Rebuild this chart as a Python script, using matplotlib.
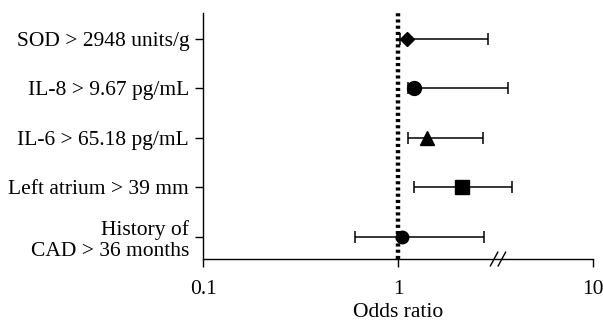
import numpy as np
import matplotlib
matplotlib.use("Agg")
import matplotlib.pyplot as plt
import matplotlib.transforms as mtransforms

plt.rcParams['font.family'] = ['Liberation Serif', 'DejaVu Serif']

labels = ["SOD > 2948 units/g", "IL-8 > 9.67 pg/mL", "IL-6 > 65.18 pg/mL",
          "Left atrium > 39 mm", "History of\nCAD > 36 months"]
odds = [1.11, 1.21, 1.40, 2.12, 1.05]
ci_low = [1.02, 1.12, 1.12, 1.21, 0.60]
ci_high = [2.88, 3.68, 2.72, 3.83, 2.77]
markers = ["D", "o", "^", "s", "o"]
msizes = [7, 10, 10, 10, 9]

fig = plt.figure(figsize=(6.03, 3.21), dpi=100)
ax = fig.add_axes([0.3367, 0.1931, 0.6467, 0.7664])

ypos = np.arange(len(labels))[::-1] + 1

# reference line at OR = 1
ax.plot([1, 1], [0.55, 5.52], color='black', lw=3.2, linestyle=(0, (0.7, 0.7)), zorder=1)

for y, o, lo, hi, m, ms in zip(ypos, odds, ci_low, ci_high, markers, msizes):
    ax.errorbar(o, y, xerr=[[o - lo], [hi - o]], fmt='none', ecolor='black',
                elinewidth=1.1, capsize=4.5, capthick=1.1, zorder=2)
    ax.plot(o, y, marker=m, color='black', markersize=ms, zorder=3, linestyle='none')

ax.set_xscale('log')
ax.set_xlim(0.1, 10)
ax.set_ylim(0.55, 5.52)
ax.set_xticks([0.1, 1, 10])
ax.set_xticklabels(["0.1", "1", "10"])
ax.minorticks_off()
ax.set_yticks(ypos)
ax.set_yticklabels(labels, fontsize=15.5, linespacing=1.15)
ax.tick_params(axis='x', labelsize=15.5, length=6, width=1, direction='out', pad=9)
ax.tick_params(axis='y', length=6, width=1, direction='out', pad=4)
for lab in ax.get_yticklabels():
    lab.set_horizontalalignment('right')
ax.set_xlabel("Odds ratio", fontsize=15.5, labelpad=3)

for s in ['top', 'right']:
    ax.spines[s].set_visible(False)
for s in ['left', 'bottom']:
    ax.spines[s].set_linewidth(1)

# axis break mark
trans = mtransforms.blended_transform_factory(ax.transData, ax.transAxes)
for xb in [3.11, 3.41]:
    ax.plot([xb / 1.045, xb * 1.045], [-0.028, 0.028], color='black', lw=1,
            transform=trans, clip_on=False, zorder=5)

fig.savefig("out.png", dpi=100)
